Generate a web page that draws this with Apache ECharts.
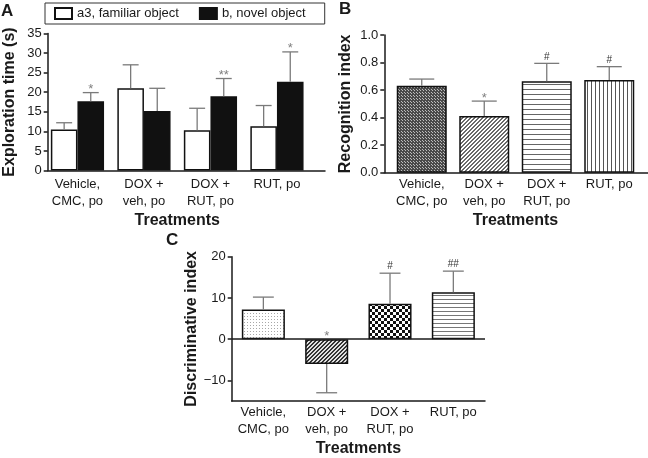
<!DOCTYPE html>
<html><head><meta charset="utf-8">
<script src="https://cdn.jsdelivr.net/npm/echarts@6/dist/echarts.min.js"></script>
<style>html,body{margin:0;padding:0;background:#fff}#c{width:648px;height:458px}</style>
</head><body><div id="c"></div>
<script>
// ---------- data ----------
const categories = ['Vehicle,\nCMC, po', 'DOX +\nveh, po', 'DOX +\nRUT, po', 'RUT, po'];
const legendNames = ['a3, familiar object', 'b, novel object'];

const aFamiliar = [10.5, 21.0, 10.3, 11.3];
const aFamiliarErr = [12.2, 27.0, 15.9, 16.6];
const aFamiliarSig = ['', '', '', ''];
const aNovel = [17.7, 15.2, 19.0, 22.7];
const aNovelErr = [19.9, 21.0, 23.5, 30.3];
const aNovelSig = ['*', '', '**', '*'];
const aYTicks = [0, 5, 10, 15, 20, 25, 30, 35];

const bRecognition = [0.632, 0.412, 0.664, 0.673];
const bRecognitionErr = [0.68, 0.52, 0.794, 0.77];
const bSig = ['', '*', '#', '#'];
const bYTicks = [0, 0.2, 0.4, 0.6, 0.8, 1.0];

const cDiscriminative = [7.2, -6.0, 8.6, 11.4];
const cDiscriminativeErr = [10.2, -13.0, 16.0, 16.5];
const cSig = ['', '*', '#', '##'];
const cYTicks = [-10, 0, 10, 20];

// ---------- patterns (styles) ----------
function pat(w, h, draw) {
  const cv = document.createElement('canvas');
  cv.width = w; cv.height = h;
  const g = cv.getContext('2d');
  draw(g);
  return { image: cv, repeat: 'repeat' };
}
const pDenseDark = pat(3, 3, g => { g.fillStyle = '#4a4a4a'; g.fillRect(0,0,3,3); g.fillStyle = '#bdbdbd'; g.fillRect(0,0,1,1); g.fillRect(2,2,1,1); });
const pDiagLight = pat(4, 4, g => { g.fillStyle = '#fff'; g.fillRect(0,0,4,4); g.fillStyle = '#6a6a6a';
  for (let i=0;i<4;i++){ g.fillRect((3-i)%4, i, 1, 1); g.fillRect((4-i)%4, i, 1, 1);} });
const pDiagDark = pat(4, 4, g => { g.fillStyle = '#e0e0e0'; g.fillRect(0,0,4,4); g.fillStyle = '#333';
  for (let i=0;i<4;i++){ g.fillRect((3-i)%4, i, 1, 1); g.fillRect((4-i)%4, i, 1, 1);} });
const pHoriz5 = pat(4, 5, g => { g.fillStyle = '#fff'; g.fillRect(0,0,4,5); g.fillStyle = '#666'; g.fillRect(0,4,4,1); });
const pHoriz4 = pat(4, 4, g => { g.fillStyle = '#fff'; g.fillRect(0,0,4,4); g.fillStyle = '#777'; g.fillRect(0,3,4,1); });
const pVert = pat(4, 4, g => { g.fillStyle = '#fff'; g.fillRect(0,0,4,4); g.fillStyle = '#555'; g.fillRect(3,0,1,4); });
const pDots = pat(3, 3, g => { g.fillStyle = '#fff'; g.fillRect(0,0,3,3); g.fillStyle = '#a8a8a8'; g.fillRect(1,1,1,1); });
const pChecker = pat(6, 6, g => { g.fillStyle = '#fff'; g.fillRect(0,0,6,6); g.fillStyle = '#111'; g.fillRect(0,0,3,3); g.fillRect(3,3,3,3); });
const bPatterns = [pDenseDark, pDiagLight, pHoriz5, pVert];
const cPatterns = [pDots, pDiagDark, pChecker, pHoriz4];

// ---------- helpers ----------
const FONT = 'Liberation Sans, Arial, sans-serif';
const INK = '#1a1a1a';
const ERR = '#7a7a7a';

function errSeries(axisIdx, means, errs, sigs, offFrac, capFrac) {
  return {
    type: 'custom', xAxisIndex: axisIdx, yAxisIndex: axisIdx, z: 5, silent: true,
    data: means.map((m, i) => [i, m]),
    encode: { x: 0, y: 1 },
    renderItem: function (params, api) {
      const i = params.dataIndex;
      const band = api.size([1, 0])[0];
      const base = api.coord([i, means[i]]);
      const top = api.coord([i, errs[i]]);
      const x = base[0] + offFrac * band;
      const cap = capFrac * band;
      const children = [
        { type: 'line', shape: { x1: x, y1: base[1], x2: x, y2: top[1] }, style: { stroke: ERR, lineWidth: 1.3 } },
        { type: 'line', shape: { x1: x - cap / 2, y1: top[1], x2: x + cap / 2, y2: top[1] }, style: { stroke: ERR, lineWidth: 1.3 } }
      ];
      const s = sigs[i];
      if (s) {
        const ly = api.coord([i, Math.max(errs[i], 0)])[1];
        const star = s.indexOf('*') >= 0;
        children.push({ type: 'text', style: {
          text: s, x: x, y: ly - (star ? 3 : 6.5), align: 'center', verticalAlign: 'middle',
          font: (star ? '13px ' : '10px ') + FONT, fill: star ? '#808080' : '#333'
        }});
      }
      return { type: 'group', children: children };
    }
  };
}
function frameX(gi) {
  return { gridIndex: gi, type: 'value', min: 0, max: 1, axisLine: { show: true, onZero: false, lineStyle: { color: INK, width: 1.5 } },
    axisTick: { show: false }, axisLabel: { show: false }, splitLine: { show: false } };
}
function catX(gi, margin, nameGap) {
  return { gridIndex: gi, type: 'category', data: categories, axisLine: { show: false }, axisTick: { show: false },
    axisLabel: { fontSize: 13, color: INK, fontFamily: FONT, lineHeight: 17, margin: margin, interval: 0 },
    name: 'Treatments', nameLocation: 'middle', nameGap: nameGap,
    nameTextStyle: { fontSize: 16, fontWeight: 'bold', color: INK, fontFamily: FONT } };
}
function valY(gi, min, max, interval, name, nameGap, fmt) {
  return { gridIndex: gi, type: 'value', min: min, max: max, interval: interval,
    axisLine: { show: true, lineStyle: { color: INK, width: 1.5 } },
    axisTick: { show: true, length: 4, lineStyle: { color: INK, width: 1.5 } },
    axisLabel: { fontSize: 13, color: INK, fontFamily: FONT, margin: 6, formatter: fmt },
    splitLine: { show: false },
    name: name, nameLocation: 'middle', nameGap: nameGap,
    nameTextStyle: { fontSize: 16, fontWeight: 'bold', color: INK, fontFamily: FONT } };
}
function hiddenY(gi, min, max) { return { gridIndex: gi, type: 'value', min: min, max: max, show: false }; }

const chart = echarts.init(document.getElementById('c'), null, { renderer: 'canvas' });
chart.setOption({
  animation: false,
  backgroundColor: '#fff',
  title: [
    { text: 'A', left: 1, top: 3, padding: 0, textStyle: { fontSize: 17, fontWeight: 'bold', color: INK, fontFamily: FONT } },
    { text: 'B', left: 339, top: 1, padding: 0, textStyle: { fontSize: 17, fontWeight: 'bold', color: INK, fontFamily: FONT } },
    { text: 'C', left: 166, top: 232, padding: 0, textStyle: { fontSize: 17, fontWeight: 'bold', color: INK, fontFamily: FONT } }
  ],
  legend: {
    data: legendNames, left: 45, top: 3, orient: 'horizontal', icon: 'rect', itemWidth: 17, itemHeight: 11, itemGap: 20,
    padding: [4, 19, 4, 9], borderColor: '#333', borderWidth: 1,
    textStyle: { fontSize: 13, color: INK, fontFamily: FONT }
  },
  grid: [
    { left: 47.7, top: 33.5, width: 277.3, height: 137 },
    { left: 44.2, top: 33.5, width: 266, height: 137 },
    { left: 384.3, top: 35, width: 263.7, height: 137.7 },
    { left: 390.5, top: 35, width: 250, height: 137.7 },
    { left: 231.7, top: 256.7, width: 253.3, height: 145.8 }
  ],
  xAxis: [
    frameX(0),
    catX(1, 5, 42),
    frameX(2),
    catX(3, 3, 40),
    Object.assign(catX(4, 3, 40), { axisLine: { show: true, onZero: false, lineStyle: { color: INK, width: 1.5 } } })
  ],
  yAxis: [
    valY(0, 0, 35, 5, 'Exploration time (s)', 30),
    hiddenY(1, 0, 35),
    valY(2, 0, 1, 0.2, 'Recognition index', 31, v => v.toFixed(1)),
    hiddenY(3, 0, 1),
    Object.assign(valY(4, -15, 20, 5, 'Discriminative index', 31, v => v < 0 ? '\u2212' + Math.abs(v) : String(v)), {
      axisTick: { show: true, length: 4, customValues: cYTicks, lineStyle: { color: INK, width: 1.5 } },
      axisLabel: { fontSize: 13, color: INK, fontFamily: FONT, margin: 6, customValues: cYTicks,
        formatter: v => v < 0 ? '\u2212' + Math.abs(v) : String(v) }
    })
  ],
  series: [
    { name: legendNames[0], type: 'bar', xAxisIndex: 1, yAxisIndex: 1, data: aFamiliar, barWidth: '40%', barGap: '0%',
      itemStyle: { color: '#fff', borderColor: '#111', borderWidth: 1.5 } },
    { name: legendNames[1], type: 'bar', xAxisIndex: 1, yAxisIndex: 1, data: aNovel, barWidth: '40%', barGap: '0%',
      itemStyle: { color: '#111', borderColor: '#111', borderWidth: 1.5 } },
    errSeries(1, aFamiliar, aFamiliarErr, aFamiliarSig, -0.2, 0.24),
    errSeries(1, aNovel, aNovelErr, aNovelSig, 0.2, 0.24),
    { type: 'bar', xAxisIndex: 3, yAxisIndex: 3, barWidth: '80%',
      data: bRecognition.map((v, i) => ({ value: v, itemStyle: { color: bPatterns[i] } })),
      itemStyle: { borderColor: '#111', borderWidth: 1.5 } },
    errSeries(3, bRecognition, bRecognitionErr, bSig, 0, 0.4),
    { type: 'bar', xAxisIndex: 4, yAxisIndex: 4, barWidth: '68%',
      data: cDiscriminative.map((v, i) => ({ value: v, itemStyle: { color: cPatterns[i] } })),
      itemStyle: { borderColor: '#111', borderWidth: 1.5 },
      markLine: { silent: true, symbol: ['none', 'none'], label: { show: false },
        lineStyle: { color: INK, width: 1.5, type: 'solid' }, data: [{ yAxis: 0 }] } },
    errSeries(4, cDiscriminative, cDiscriminativeErr, cSig, 0, 0.33)
  ]
});
</script>
</body></html>
